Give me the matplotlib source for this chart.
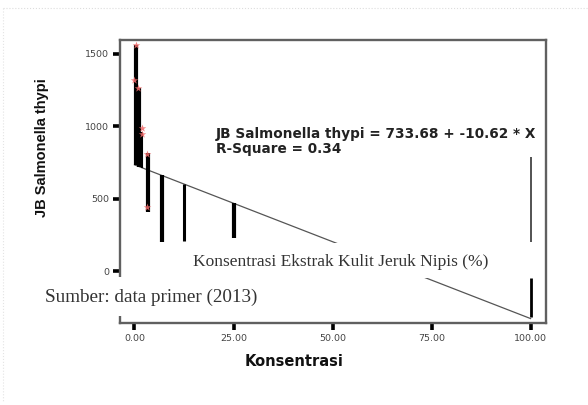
import matplotlib
matplotlib.use("Agg")
import matplotlib.pyplot as plt
from matplotlib.patches import Rectangle
import numpy as np

# ---- data ----
bar_x    = [0.3, 1.2, 2.0, 3.3, 6.9, 12.6, 25.2, 100.0, 100.2]
bar_low  = [733, 720, 715, 410, 200, 205, 230, 200, -320]
bar_high = [1560, 1265, 960, 815, 663, 601, 470, 785, -45]
bar_lw   = [3.0, 3.0, 1.5, 3.0, 3.0, 2.2, 3.0, 1.3, 2.0]
bar_col  = ['black', 'black', 'black', 'black', 'black', 'black', 'black', '#444444', 'black']

pt_x = [0.3, 0.0, 0.8, 1.8, 1.8, 3.2, 3.2]
pt_y = [1562, 1320, 1265, 988, 945, 808, 442]

intercept = 733.68
slope = -10.62
fit_x = [0.0, 100.0]

xticks = [0, 25, 50, 75, 100]
xticklabels = ['0.00', '25.00', '50.00', '75.00', '100.00']
yticks = [0, 500, 1000, 1500]

W, H = 588, 405
fig = plt.figure(figsize=(W/100, H/100), dpi=100)
fig.patch.set_facecolor('white')

def fx(px): return px / W
def fy(py): return 1 - py / H

ax = fig.add_axes([fx(120), fy(323), fx(546) - fx(120), fy(40) - fy(323)])
ax.set_xlim(-3.66, 103.9)
ax.set_ylim(-359, 1596)

fit_y = [intercept + slope * v for v in fit_x]
ax.plot(fit_x, fit_y, color='#555555', lw=0.9, zorder=2)

for x, lo, hi, lw, c in zip(bar_x, bar_low, bar_high, bar_lw, bar_col):
    ax.vlines(x, lo, hi, color=c, lw=lw, zorder=3)

ax.scatter(pt_x, pt_y, marker='*', s=32, color='#f06a6a', alpha=0.85, zorder=4, linewidths=0)

for s in ax.spines.values():
    s.set_color('#606060')
    s.set_linewidth(1.7)

ax.set_xticks(xticks)
ax.set_xticklabels(xticklabels)
ax.set_yticks(yticks)
ax.tick_params(axis='both', direction='out', length=5, width=2.6, color='black',
               labelsize=7, labelcolor='#444444', pad=3)
for lab in ax.get_xticklabels() + ax.get_yticklabels():
    lab.set_family('DejaVu Sans')
    lab.set_fontsize(6.8)

# axis labels as figure text
fig.text(fx(42), fy(148), 'JB Salmonella thypi', rotation=90, ha='center', va='center',
         fontsize=10.5, fontweight='bold', family='Liberation Sans', color='#111111')
fig.text(fx(294), fy(361), 'Konsentrasi', ha='center', va='center',
         fontsize=10.5, fontweight='bold', family='DejaVu Sans', color='#111111')

# equation annotation
fig.text(fx(216), fy(134), 'JB Salmonella thypi = 733.68 + -10.62 * X', ha='left', va='center',
         fontsize=9.8, fontweight='bold', family='DejaVu Sans', color='#222222')
fig.text(fx(216), fy(149), 'R-Square = 0.34', ha='left', va='center',
         fontsize=9.8, fontweight='bold', family='DejaVu Sans', color='#222222')

# overlay white boxes with serif text
fig.add_artist(Rectangle((fx(190), fy(278)), fx(535) - fx(190), fy(243) - fy(278),
                         transform=fig.transFigure, facecolor='white', edgecolor='none', zorder=10))
fig.text(fx(193), fy(262), 'Konsentrasi Ekstrak Kulit Jeruk Nipis (%)', ha='left', va='center',
         fontsize=12.5, family='Liberation Serif', color='#333333', zorder=11)

fig.add_artist(Rectangle((fx(38), fy(316)), fx(270) - fx(38), fy(277) - fy(316),
                         transform=fig.transFigure, facecolor='white', edgecolor='none', zorder=10))
fig.text(fx(45), fy(297), 'Sumber: data primer (2013)', ha='left', va='center',
         fontsize=13.8, family='Liberation Serif', color='#333333', zorder=11)

# faint page border
fig.add_artist(plt.Line2D([fx(3), fx(588)], [fy(8), fy(8)], transform=fig.transFigure,
                          color='#dddddd', lw=0.8, ls=':'))
fig.add_artist(plt.Line2D([fx(3), fx(3)], [fy(8), fy(402)], transform=fig.transFigure,
                          color='#e4e4e4', lw=0.8, ls=':'))

fig.savefig('out.png', dpi=100, facecolor='white')
